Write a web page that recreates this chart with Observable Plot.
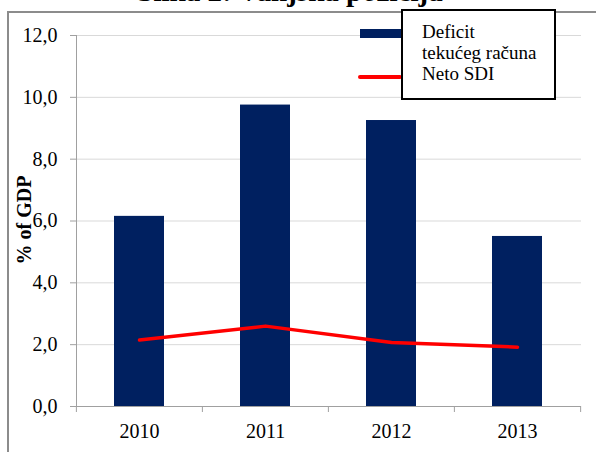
<!DOCTYPE html>
<html><head><meta charset="utf-8">
<script src="https://cdn.jsdelivr.net/npm/d3@7"></script>
<script src="https://cdn.jsdelivr.net/npm/@observablehq/plot@0.6"></script>
<style>
body{margin:0;background:white;}
#wrap{position:relative;width:596px;height:452px;overflow:hidden;font-family:"Liberation Serif","Times New Roman",serif;color:#000;}
#wrap svg{position:absolute;left:0;top:0;}
.frame{position:absolute;left:7px;top:11px;width:700px;height:600px;border-left:2px solid #8c8c8c;border-top:2px solid #8c8c8c;}
.title{position:absolute;left:0;top:-23px;width:580px;text-align:center;font-size:29px;font-weight:bold;line-height:1;white-space:nowrap;}
.ylabel{position:absolute;left:24px;top:220px;transform:translate(-50%,-50%) rotate(-90deg);font-size:20px;font-weight:bold;white-space:nowrap;line-height:1;}
.sw-bar{position:absolute;left:360px;top:29px;width:44px;height:9px;}
.sw-line{position:absolute;left:358px;top:75px;width:44px;height:4px;border-radius:2px;}
.legend{position:absolute;left:401px;top:9px;width:113px;height:70px;border:2px solid #000;background:#fff;padding:10px 19px 7px 19px;font-size:19px;line-height:21px;white-space:nowrap;}
</style></head><body>
<div id="wrap"></div>
<script>
const years = ["2010", "2011", "2012", "2013"];
const deficit = [6.15, 9.75, 9.25, 5.5];
const netoSDI = [2.15, 2.6, 2.07, 1.92];
const yTicks = [0, 2, 4, 6, 8, 10, 12];
const titleText = "Slika 2: Vanjska pozicija";
const yLabelText = "% of GDP";
const seriesNames = [["Deficit", "tekućeg računa"], ["Neto SDI"]];
const seriesColors = ["#002060", "#ff0000"];

const data = years.map((y, i) => ({year: y, deficit: deficit[i], sdi: netoSDI[i]}));
const W = 596, H = 452, mL = 76, mR = 15, mT = 35, mB = 46;
const band = (W - mL - mR) / years.length;
const fmt = d => d.toFixed(1).replace(".", ",");

const chart = Plot.plot({
  width: W, height: H,
  marginLeft: mL, marginRight: mR, marginTop: mT, marginBottom: mB,
  style: {fontFamily: '"Liberation Serif", "Times New Roman", serif', fontSize: "20px", color: "#000", background: "transparent"},
  x: {domain: years, paddingInner: 0.6, paddingOuter: 0.3, label: null},
  y: {domain: [0, 12], label: null},
  marks: [
    Plot.gridY(yTicks, {stroke: "#d9d9d9", strokeOpacity: 1}),
    Plot.barY(data, {x: "year", y: "deficit", fill: seriesColors[0]}),
    Plot.lineY(data, {x: "year", y: "sdi", stroke: seriesColors[1], strokeWidth: 3.5, strokeLinecap: "round"}),
    Plot.ruleY([0], {stroke: "#a0a0a0"}),
    Plot.frame({anchor: "left", stroke: "#a0a0a0"}),
    Plot.axisY(yTicks, {tickFormat: fmt, tickSize: 6, tickPadding: 13, stroke: "#a0a0a0", fill: "#000", label: null}),
    Plot.axisX({tickSize: 0, tickPadding: 17, fill: "#000", label: null}),
    Plot.axisX({tickSize: 6, tickFormat: () => "", dx: -band / 2, stroke: "#a0a0a0", label: null}),
    Plot.axisX([years[years.length - 1]], {tickSize: 6, tickFormat: () => "", dx: band / 2, stroke: "#a0a0a0", label: null})
  ]
});

const wrap = document.getElementById("wrap");
wrap.appendChild(chart);

const frame = document.createElement("div"); frame.className = "frame"; wrap.appendChild(frame);
const t = document.createElement("div"); t.className = "title"; t.textContent = titleText; wrap.appendChild(t);
const yl = document.createElement("div"); yl.className = "ylabel"; yl.textContent = yLabelText; wrap.appendChild(yl);
const sb = document.createElement("div"); sb.className = "sw-bar"; sb.style.background = seriesColors[0]; wrap.appendChild(sb);
const sl = document.createElement("div"); sl.className = "sw-line"; sl.style.background = seriesColors[1]; wrap.appendChild(sl);
const lg = document.createElement("div"); lg.className = "legend";
seriesNames.forEach(lines => lines.forEach(l => { const d = document.createElement("div"); d.textContent = l; lg.appendChild(d); }));
wrap.appendChild(lg);
</script>
</body></html>
